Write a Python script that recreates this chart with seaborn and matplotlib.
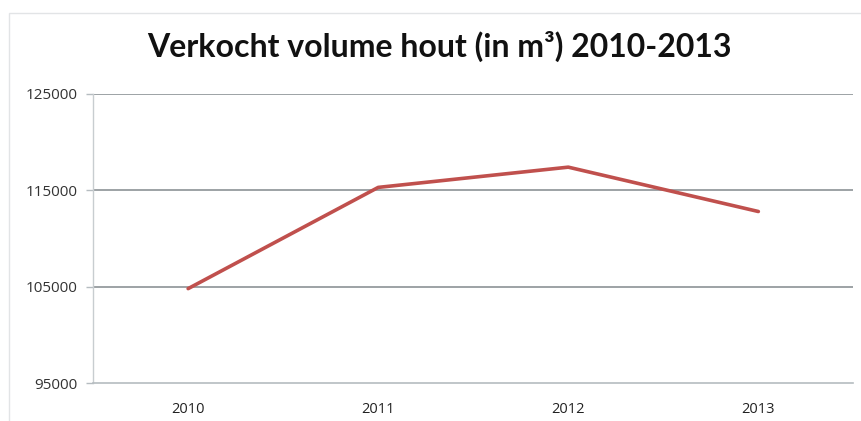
import matplotlib
matplotlib.use("Agg")
import matplotlib.pyplot as plt
import seaborn as sns
import pandas as pd
from matplotlib.patches import Rectangle

years = ["2010", "2011", "2012", "2013"]
volume = [104800, 115300, 117400, 112800]
y_ticks = [95000, 105000, 115000, 125000]
title = "Verkocht volume hout (in m³) 2010-2013"

sns.set_style("white")
plt.rcParams['font.family'] = ['Open Sans', 'DejaVu Sans']

df = pd.DataFrame({"jaar": years, "volume": volume})

fig = plt.figure(figsize=(8.62, 4.21), dpi=100)
ax = fig.add_axes([0.108, 0.090, 0.882, 0.687])

for t in y_ticks[1:]:
    ax.axhline(t, color="#8c9296", lw=1.2, zorder=1)

sns.lineplot(data=df, x="jaar", y="volume", ax=ax, color="#c0504d",
             lw=2.6, sort=False, zorder=3)

ax.set_xlim(-0.5, 3.5)
ax.set_ylim(95000, 125000)
ax.set_yticks(y_ticks)
ax.set_yticklabels([str(t) for t in y_ticks])
ax.set_xlabel("")
ax.set_ylabel("")

for s in ["top", "right"]:
    ax.spines[s].set_visible(False)
ax.spines["left"].set_color("#c8cdd0")
ax.spines["bottom"].set_color("#b5bcc0")
ax.spines["left"].set_linewidth(1.0)
ax.spines["bottom"].set_linewidth(1.2)

ax.tick_params(axis="y", which="major", left=True, length=5, width=1,
               color="#b5bcc0", labelsize=11, labelcolor="#333333", pad=6)
ax.tick_params(axis="x", which="major", bottom=False, labelsize=10.5,
               labelcolor="#222222", pad=10)

fig.text(0.51, 0.89, title, ha="center", va="center", fontsize=23,
         fontweight="bold", color="#111111", family=["Lato", "DejaVu Sans"])

fig.patches.append(Rectangle((0.010, -0.01), 1.0, 0.98, transform=fig.transFigure,
                             fill=False, edgecolor="#e2e4e6", lw=1.0))

fig.savefig("out.png", dpi=100)
